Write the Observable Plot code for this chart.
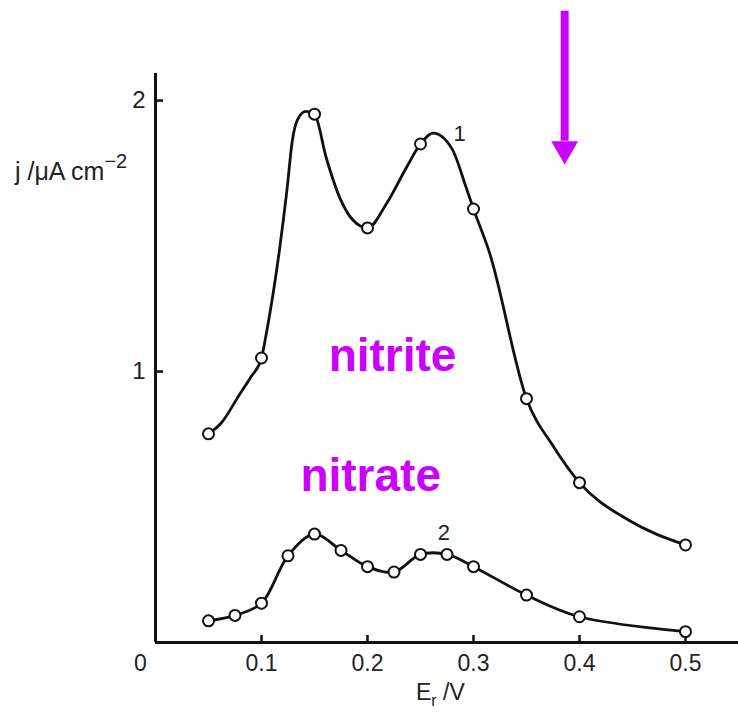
<!DOCTYPE html>
<html><head><meta charset="utf-8">
<script src="https://cdn.jsdelivr.net/npm/d3@7"></script>
<script src="https://cdn.jsdelivr.net/npm/@observablehq/plot@0.6"></script>
<style>body{margin:0;background:#fff}#chart svg{display:block}</style>
</head><body><div id="chart"></div>
<script>
// Curve 1 (nitrite): measured points (open circles)
const nitriteE = [0.05, 0.1, 0.15, 0.2, 0.25, 0.3, 0.35, 0.4, 0.5];
const nitriteJ = [0.77, 1.05, 1.95, 1.53, 1.84, 1.60, 0.90, 0.59, 0.36];
// Curve 1 drawn line
const nitriteLineE = [0.05, 0.062, 0.08, 0.09, 0.1, 0.105, 0.117, 0.124, 0.129, 0.134, 0.142, 0.15, 0.161, 0.174, 0.186, 0.2, 0.218, 0.237, 0.25, 0.262, 0.28, 0.293, 0.3, 0.315, 0.35, 0.376, 0.4, 0.447, 0.5];
const nitriteLineJ = [0.77, 0.81, 0.92, 0.98, 1.05, 1.15, 1.45, 1.67, 1.85, 1.93, 1.96, 1.95, 1.79, 1.64, 1.56, 1.53, 1.62, 1.755, 1.84, 1.88, 1.82, 1.68, 1.60, 1.44, 0.90, 0.72, 0.59, 0.45, 0.36];
// Curve 2 (nitrate): measured points
const nitrateE = [0.05, 0.075, 0.1, 0.125, 0.15, 0.175, 0.2, 0.225, 0.25, 0.275, 0.3, 0.35, 0.4, 0.5];
const nitrateJ = [0.08, 0.10, 0.145, 0.32, 0.40, 0.34, 0.28, 0.26, 0.325, 0.325, 0.28, 0.175, 0.095, 0.04];
// Axis ticks
const xTicks = [0.1, 0.2, 0.3, 0.4, 0.5];
const yTicks = [1, 2];
// Curve labels and annotations
const curveLabels = ["1", "2"];
const curveLabelE = [0.287, 0.272];
const curveLabelJ = [1.877, 0.406];
const annoText = ["nitrite", "nitrate"];
const annoE = [0.2236, 0.203];
const annoJ = [1.058, 0.615];
const arrowE = [0.386];
const arrowFromJ = [2.33];
const arrowToJ = [1.85];
const arrowTipJ = [1.821];

const nitritePts = nitriteE.map((e, i) => ({e, j: nitriteJ[i]}));
const nitriteLine = nitriteLineE.map((e, i) => ({e, j: nitriteLineJ[i]}));
const nitratePts = nitrateE.map((e, i) => ({e, j: nitrateJ[i]}));
const labels = curveLabels.map((t, i) => ({t, e: curveLabelE[i], j: curveLabelJ[i]}));
const annos = annoText.map((t, i) => ({t, e: annoE[i], j: annoJ[i]}));
const arrows = arrowE.map((e, i) => ({e, j1: arrowFromJ[i], j2: arrowToJ[i], tip: arrowTipJ[i]}));

const W = 738, H = 716, mL = 155, mR = 0, mT = 73, mB = 74;
const innerH = H - mT - mB, innerW = W - mL - mR;
const ink = "#111";
const magenta = "#cc00ff";
const font = "'Liberation Sans', Arial, Helvetica, sans-serif";

const plot = Plot.plot({
  width: W, height: H,
  marginLeft: mL, marginRight: mR, marginTop: mT, marginBottom: mB,
  x: {domain: [0, 0.55], label: null},
  y: {domain: [0, 2.1], label: null},
  style: {fontFamily: font, background: "#fff", color: "#222", overflow: "visible"},
  marks: [
    Plot.ruleY([0], {stroke: ink, strokeWidth: 3}),
    Plot.ruleX([0], {y1: 0, y2: 2.1, stroke: ink, strokeWidth: 3}),
    Plot.tickX(xTicks, {insetTop: innerH - 7, stroke: ink, strokeWidth: 2.5}),
    Plot.tickY(yTicks, {insetRight: innerW - 8, stroke: ink, strokeWidth: 2.5}),
    Plot.axisX(xTicks, {tickSize: 0, tickPadding: 12, fontSize: 23, label: null, tickFormat: d => d.toFixed(1)}),
    Plot.axisX([0], {tickSize: 0, tickPadding: 12, fontSize: 23, label: null, dx: -15, tickFormat: () => "0"}),
    Plot.axisY(yTicks, {tickSize: 0, tickPadding: 10, fontSize: 24, label: null, tickFormat: d => String(d)}),
    Plot.line(nitriteLine, {x: "e", y: "j", curve: "monotone-x", stroke: ink, strokeWidth: 2.8}),
    Plot.line(nitratePts, {x: "e", y: "j", curve: "catmull-rom", stroke: ink, strokeWidth: 2.8}),
    Plot.dot(nitritePts, {x: "e", y: "j", r: 5.5, fill: "white", stroke: ink, strokeWidth: 2}),
    Plot.dot(nitratePts, {x: "e", y: "j", r: 5.5, fill: "white", stroke: ink, strokeWidth: 2}),
    Plot.text(labels, {x: "e", y: "j", text: "t", fontSize: 22, fill: "#222"}),
    Plot.text(annos, {x: "e", y: "j", text: "t", fontSize: 46, fontWeight: "bold", fill: magenta}),
    Plot.ruleX(arrows, {x: "e", y1: "j1", y2: "j2", stroke: magenta, strokeWidth: 8}),
    Plot.dot(arrows, {x: "e", y: "tip", symbol: "triangle2", rotate: 180, r: 12.8, fill: magenta, stroke: "none"})
  ]
});
document.getElementById("chart").append(plot);

// Axis titles with super/subscripts
const svg = d3.select(plot);
const yl = svg.append("text").attr("x", 15).attr("y", 180).attr("text-anchor", "start")
  .attr("font-family", font).attr("font-size", 25).attr("fill", "#222");
yl.append("tspan").text("j /\u03bcA cm");
yl.append("tspan").attr("dy", -12).attr("font-size", 20).text("\u22122");
const xl = svg.append("text").attr("x", 416).attr("y", 700).attr("text-anchor", "start")
  .attr("font-family", font).attr("font-size", 23).attr("fill", "#222");
xl.append("tspan").text("E");
xl.append("tspan").attr("dy", 6).attr("font-size", 16).text("r");
xl.append("tspan").attr("dy", -6).text(" /V");
</script>
</body></html>
